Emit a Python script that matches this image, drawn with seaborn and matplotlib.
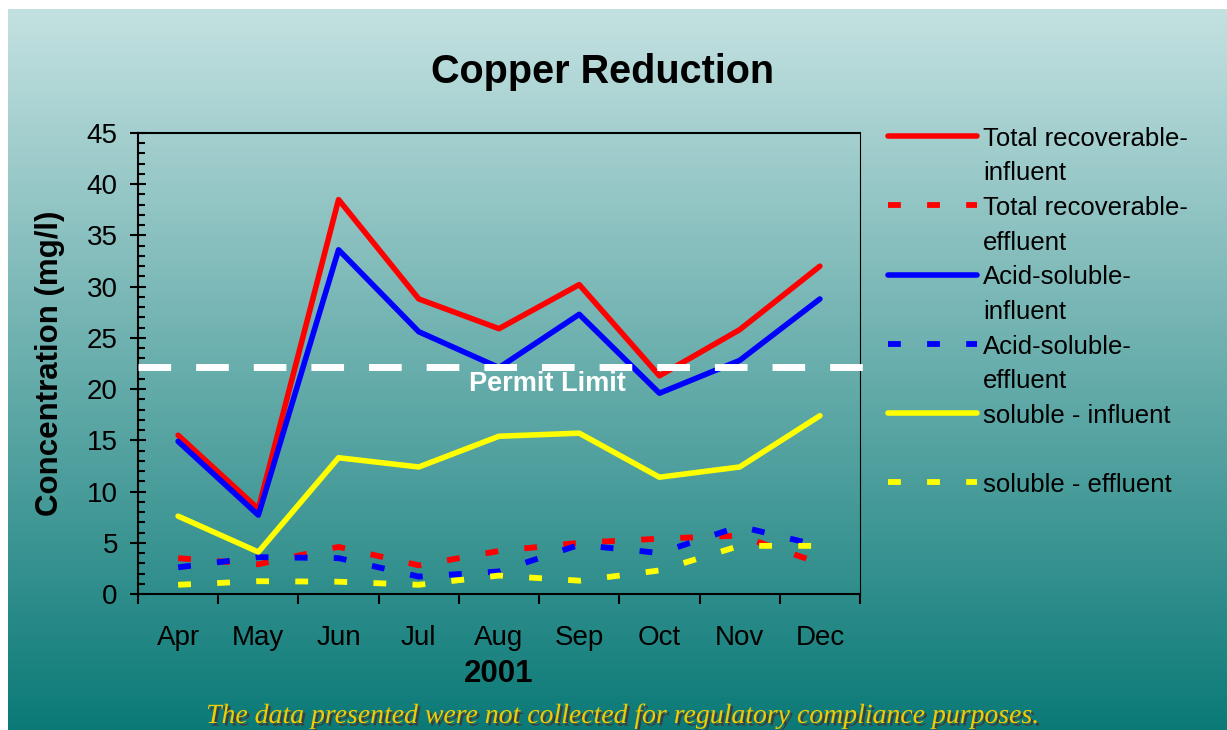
import numpy as np
import pandas as pd
import matplotlib
matplotlib.use("Agg")
import matplotlib.pyplot as plt
import matplotlib.patheffects as pe
import matplotlib.transforms as mtransforms
from matplotlib.colors import LinearSegmentedColormap
from matplotlib.legend_handler import HandlerLine2D
from matplotlib.ticker import MultipleLocator, FixedLocator
import seaborn as sns

# Monthly copper concentrations (mg/l), 2001
months = ["Apr", "May", "Jun", "Jul", "Aug", "Sep", "Oct", "Nov", "Dec"]
tr_influent = [15.5, 8.3, 38.5, 28.8, 25.9, 30.2, 21.3, 25.8, 32.0]
tr_effluent = [3.5, 2.9, 4.6, 2.8, 4.2, 5.0, 5.4, 5.7, 3.0]
as_influent = [14.9, 7.7, 33.6, 25.6, 22.1, 27.3, 19.6, 22.8, 28.8]
as_effluent = [2.6, 3.6, 3.5, 1.7, 2.2, 4.8, 4.0, 6.6, 4.7]
sol_influent = [7.6, 4.1, 13.3, 12.4, 15.4, 15.7, 11.4, 12.4, 17.4]
sol_effluent = [0.9, 1.25, 1.2, 0.9, 1.8, 1.3, 2.3, 4.7, 4.7]
permit_limit = 22.2

series = [
    ("Total recoverable-\ninfluent", tr_influent, "#ff0000", "solid"),
    ("Total recoverable-\neffluent", tr_effluent, "#ff0000", "dash"),
    ("Acid-soluble-\ninfluent", as_influent, "#0000ff", "solid"),
    ("Acid-soluble-\neffluent", as_effluent, "#0000ff", "dash"),
    ("soluble - influent\n", sol_influent, "#ffff00", "solid"),
    ("soluble - effluent\n", sol_effluent, "#ffff00", "dash"),
]

sns.set_style("ticks")
plt.rcParams["font.family"] = ["Liberation Sans", "DejaVu Sans"]
plt.rcParams["text.color"] = "black"
plt.rcParams["axes.labelcolor"] = "black"

fig = plt.figure(figsize=(12.27, 7.3), dpi=100)
fig.patch.set_facecolor("white")

# gradient background
bg = fig.add_axes([8 / 1227, 0, 1 - 8 / 1227, 1 - 9 / 730], zorder=-10)
cmap = LinearSegmentedColormap.from_list("bg", ["#c4e1e1", "#0b7a77"])
bg.imshow(np.linspace(0, 1, 256)[:, None], aspect="auto", cmap=cmap,
          extent=[0, 1, 0, 1], origin="upper")
bg.axis("off")

ax = fig.add_axes([138 / 1227, 136 / 730, 722 / 1227, 461 / 730])
ax.set_facecolor("none")

pos = np.arange(len(months))
solid_kw = dict(linewidth=4, solid_capstyle="round", solid_joinstyle="round")
dash_kw = dict(linewidth=4.2, linestyle=(0, (2.2, 4.5)), dash_capstyle="butt")

for label, vals, col, kind in series:
    df = pd.DataFrame({"pos": pos, "val": vals})
    kw = solid_kw if kind == "solid" else dash_kw
    sns.lineplot(data=df, x="pos", y="val", color=col, label=label, ax=ax, **kw)

# permit limit
ax.axhline(permit_limit, xmin=0, xmax=1.017, color="white", lw=5,
           linestyle=(0, (4.7, 3.6)), dash_capstyle="butt", clip_on=False, zorder=5)
ax.text(4.6, 19.8, "Permit Limit", color="white", fontsize=19.5, fontweight="bold",
        ha="center", va="baseline", zorder=6)

# axes
ax.set_xlim(-0.5, len(months) - 0.5)
ax.set_ylim(0, 45)
ax.set_xticks(pos)
ax.set_xticklabels(months)
ax.xaxis.set_minor_locator(FixedLocator(np.arange(-0.5, len(months), 1)))
ax.yaxis.set_major_locator(MultipleLocator(5))
ax.yaxis.set_minor_locator(MultipleLocator(1))
ax.tick_params(axis="x", which="major", length=0, pad=22, labelsize=20, colors="black")
ax.tick_params(axis="x", which="minor", length=7.5, width=1.5, direction="out", color="black")
ax.tick_params(axis="y", which="major", direction="inout", length=11, width=1.5,
               labelsize=20, pad=9, colors="black")
ax.tick_params(axis="y", which="minor", direction="in", length=5, width=1.5, color="black")
for side in ["left", "top", "bottom"]:
    ax.spines[side].set_linewidth(1.5)
    ax.spines[side].set_color("black")
ax.spines["right"].set_linewidth(0.8)
ax.spines["right"].set_color("black")
ax.spines["right"].set_visible(True)
ax.spines["top"].set_visible(True)

ax.set_xlabel("2001", fontsize=22.5, fontweight="bold", labelpad=6, color="black")
ax.set_ylabel("Concentration (mg/l)", fontsize=22.5, fontweight="bold", labelpad=16,
              color="black")

fig.text(603 / 1227, 1 - 83 / 730, "Copper Reduction", ha="center", va="baseline",
         fontsize=28.5, fontweight="bold", color="black")


class FirstLineHandler(HandlerLine2D):
    # put the legend line next to the first line of a two-line label
    def __init__(self, shift, **kw):
        super().__init__(**kw)
        self.shift = shift

    def create_artists(self, legend, orig_handle, xdescent, ydescent, width,
                       height, fontsize, trans):
        arts = super().create_artists(legend, orig_handle, xdescent, ydescent,
                                      width, height, fontsize, trans)
        tr = mtransforms.Affine2D().translate(0, self.shift) + trans
        for a in arts:
            a.set_transform(tr)
        return arts


leg_size = 18.5
handles, labels = ax.get_legend_handles_labels()
leg = ax.legend(handles, labels, loc="upper left",
                bbox_to_anchor=(888 / 1227, 1 - 127 / 730), bbox_transform=fig.transFigure,
                frameon=False, borderpad=0, borderaxespad=0, prop={"size": leg_size},
                handlelength=3.46, handletextpad=0.23, labelspacing=0.42,
                handler_map={h: FirstLineHandler(0.8 * leg_size) for h in handles})
for t in leg.get_texts():
    t.set_linespacing(1.55)
    t.set_color("black")

footer = fig.text(623 / 1227, 7 / 730,
                  "The data presented were not collected for regulatory compliance purposes.",
                  ha="center", va="baseline", fontsize=20, color="#f2cc00",
                  family=["Liberation Serif", "DejaVu Serif"], style="italic")
footer.set_path_effects([pe.withSimplePatchShadow(offset=(1.8, -1.8),
                                                  shadow_rgbFace="#3c3c3c", alpha=1.0)])

fig.savefig("out.png", dpi=100)
